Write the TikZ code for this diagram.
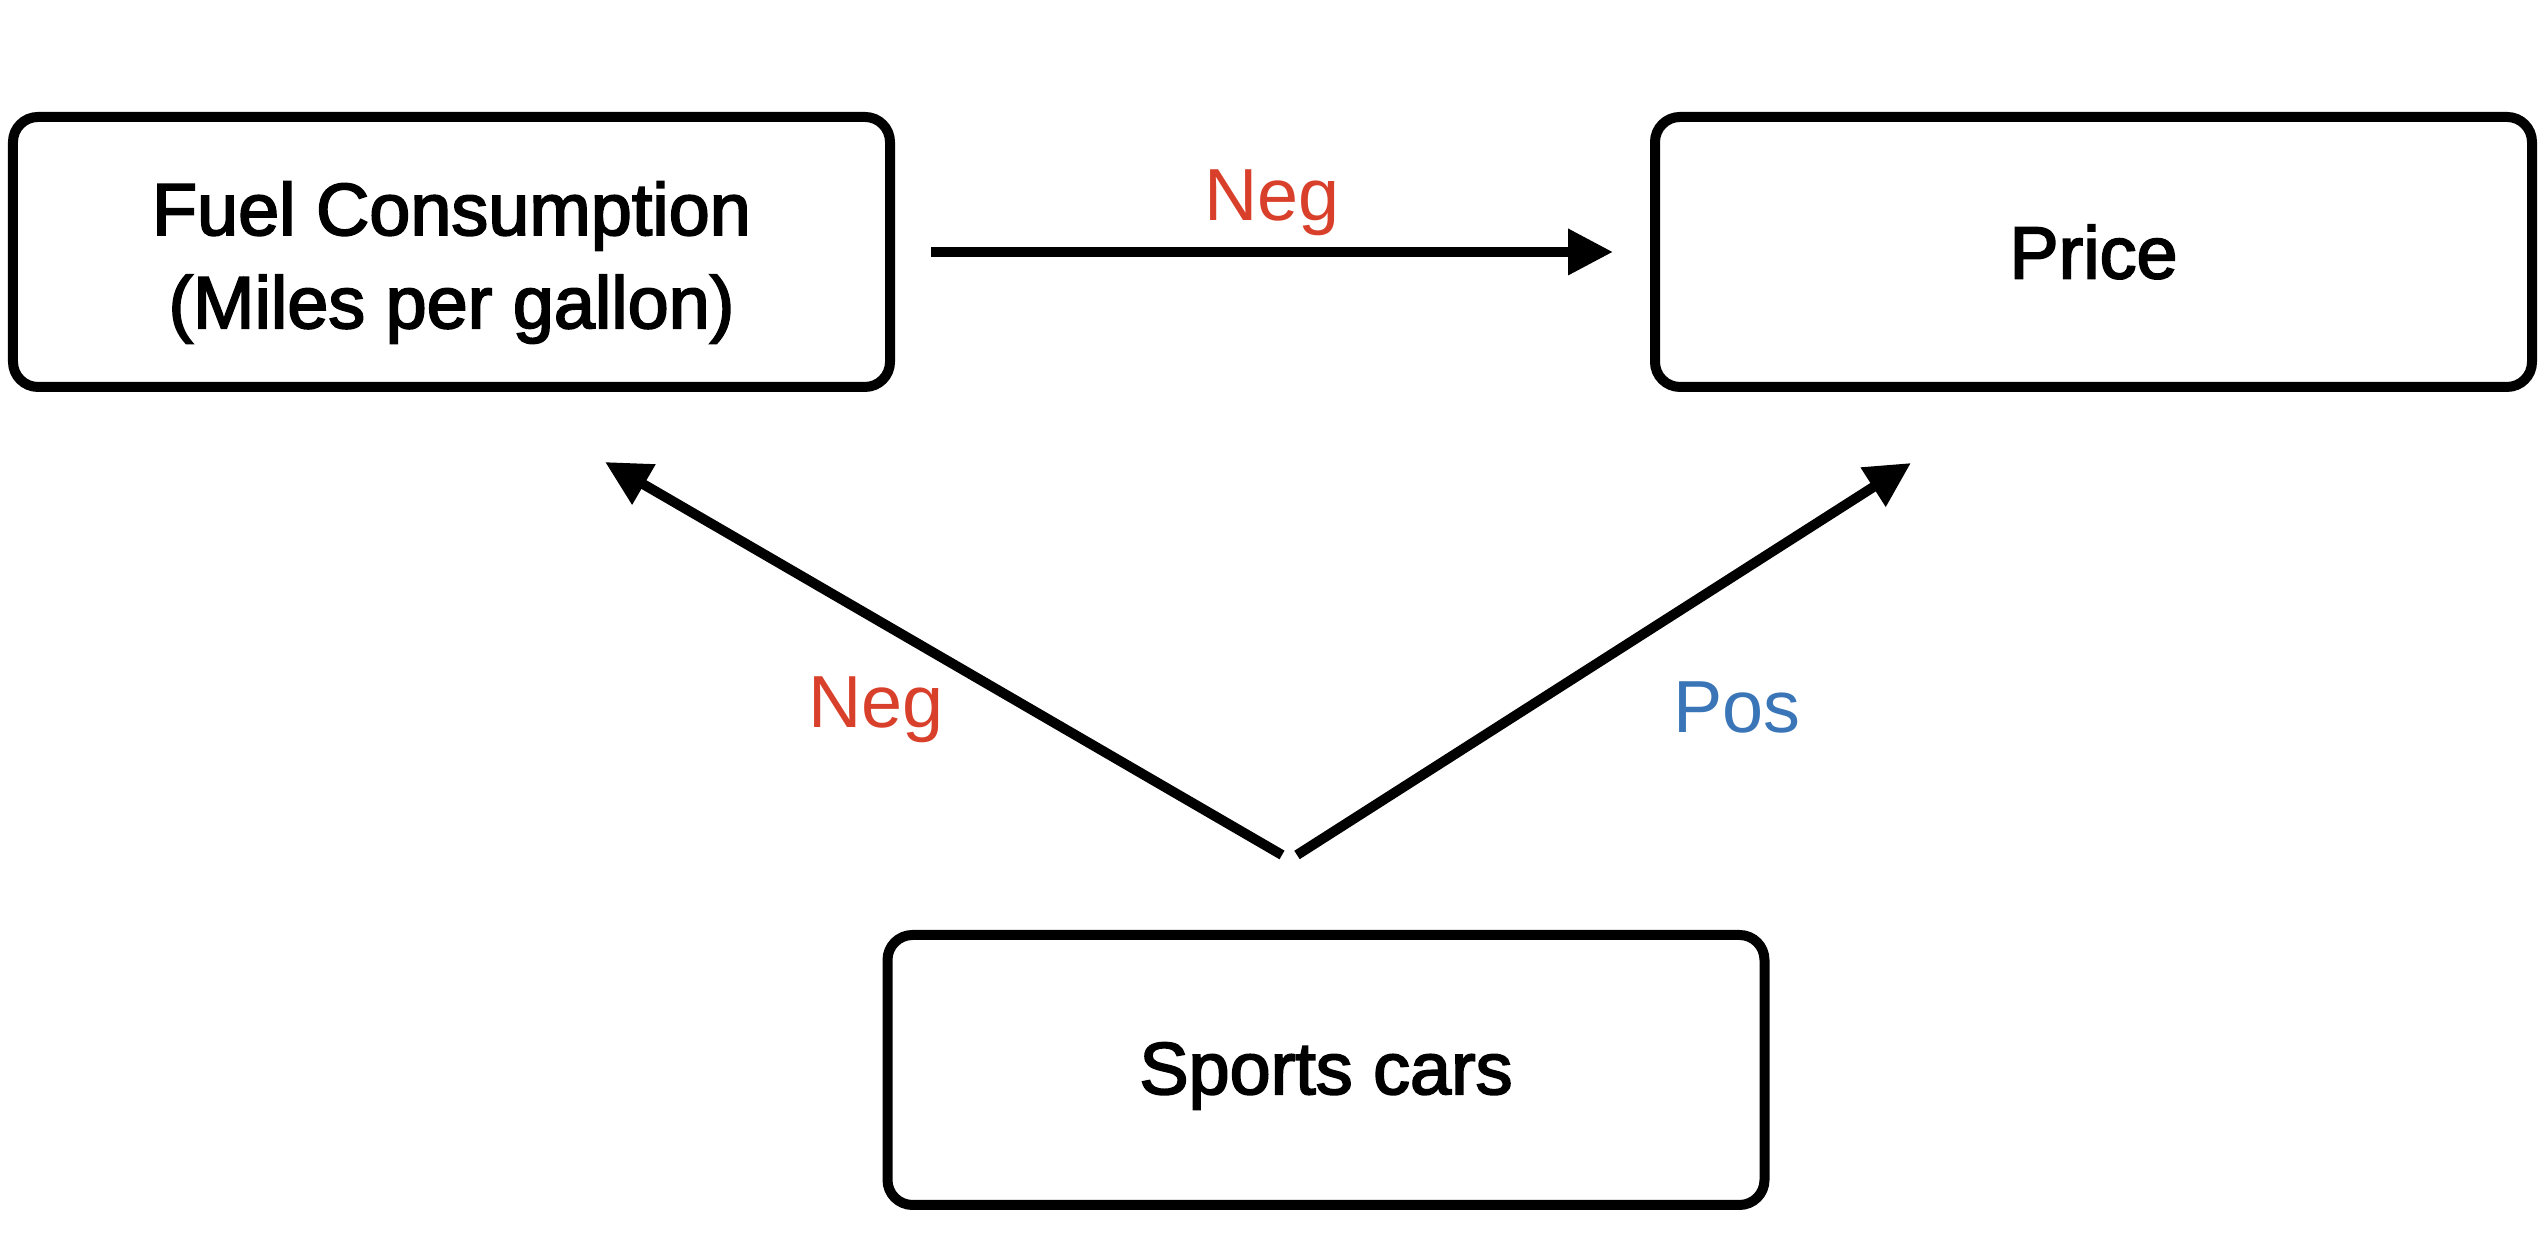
\documentclass[tikz,border=0pt]{standalone}
\usepackage{fontspec}
\setmainfont{Liberation Sans}
\newfontfamily\vboxfont{Liberation Sans}[FakeBold=2.5]
\usetikzlibrary{arrows.meta}
\usetikzlibrary{calc}
\definecolor{negred}{RGB}{217,64,43}
\definecolor{posblue}{RGB}{58,117,184}
\newcommand{\vbxw}{8.77cm}
\newcommand{\vbxh}{2.70cm}
\newcommand{\vbxrow}{10.02}
\newcommand{\vlblsize}{\fontsize{21}{26.5}\selectfont}
\begin{document}
\begin{tikzpicture}[
    vbox/.style={draw, line width=1mm, rounded corners=2.5mm,
      minimum width=\vbxw, minimum height=\vbxh, align=center,
      font=\vboxfont\vlblsize},
    vlink/.style={line width=1mm,
      -{Triangle[length=4.5mm,width=4.4mm]}},
    vsign/.style={font=\vlblsize}]
    \useasboundingbox (0,0) rectangle (25.48,12.54);

    \node (fuel) at (4.515, \vbxrow) [vbox]
      {\raisebox{-1.1mm}[\height][\depth]{\begin{tabular}{@{}c@{}}
        Fuel Consumption\\(Miles per gallon)\end{tabular}}};
    \node (price) at (20.935, \vbxrow) [vbox] {Price};
    \node (sports) at (13.26, 1.84) [vbox]
      {\raisebox{-0.6mm}[\height][\depth]{Sports cars}};

    \draw [vlink] ([xshift=3.6mm]fuel.east) -- ([xshift=-3.7mm]price.west);
    \draw [vlink] ($(sports.north) + (-0.44, 0.75)$)
      -- ($(fuel.south) + (1.535, -0.70)$);
    \draw [vlink] ($(sports.north) + (-0.29, 0.75)$)
      -- ($(price.south) + (-1.825, -0.71)$);

    \node (negtop) at (12.72, 10.51) [vsign, text=negred] {Neg};
    \node (negleft) at (8.76, 5.44) [vsign, text=negred] {Neg};
    \node (posright) at (17.37, 5.47) [vsign, text=posblue] {Pos};
  \end{tikzpicture}
\end{document}
